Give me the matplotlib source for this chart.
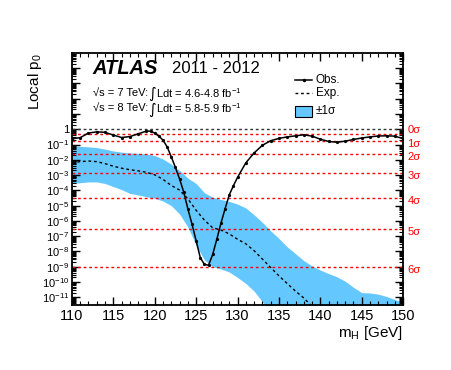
import numpy as np
import matplotlib
matplotlib.use("Agg")
import matplotlib.pyplot as plt
from matplotlib.patches import Rectangle
from matplotlib.ticker import FixedLocator, LogLocator, FuncFormatter, MultipleLocator

plt.rcParams['font.family'] = ['Liberation Sans', 'DejaVu Sans']
plt.rcParams['mathtext.fontset'] = 'custom'
plt.rcParams['mathtext.rm'] = 'Liberation Sans'
plt.rcParams['mathtext.it'] = 'Liberation Sans:italic'
plt.rcParams['mathtext.bf'] = 'Liberation Sans:bold'

obs_mass = [110, 111, 112, 113, 114, 115, 116, 117, 118, 119, 119.5, 120, 120.5,
            121, 121.5, 122, 122.5, 123, 123.5, 124, 124.5, 125, 125.5, 126, 126.5,
            127, 127.5, 128, 128.5, 129, 129.5, 130, 131, 132, 133, 134, 135, 136,
            137, 138, 139, 140, 141, 142, 143, 144, 145, 146, 147, 148, 149, 150]
obs_log = [-0.62, -0.55, -0.25, -0.17, -0.2, -0.38, -0.54, -0.48, -0.3, -0.12, -0.12,
           -0.25, -0.45, -0.71, -1.15, -1.8, -2.5, -3.25, -4.1, -5.2, -6.2, -7.3, -8.4,
           -8.85, -8.9, -8.2, -7.2, -6.15, -5.2, -4.3, -3.7, -3.15, -2.2, -1.55, -1.05,
           -0.75, -0.6, -0.5, -0.43, -0.36, -0.45, -0.65, -0.8, -0.85, -0.78, -0.67,
           -0.57, -0.5, -0.44, -0.43, -0.45, -0.62]

# expected median and +-1 sigma band (log10)
exp_mass = [110, 111, 112, 113, 114, 115, 116, 117, 118, 119, 120, 121, 122, 123, 124,
            125, 126, 127, 128, 129, 130, 131, 132, 133, 134, 135, 136, 137, 138, 139,
            140, 141, 142, 143, 144, 145, 146, 147, 148, 149, 150]
exp_log = [-2.2, -2.12, -2.08, -2.12, -2.25, -2.42, -2.55, -2.65, -2.72, -2.82, -2.98,
           -3.28, -3.68, -3.98, -4.55, -5.3, -5.95, -6.45, -6.6, -6.85, -7.2, -7.5,
           -7.95, -8.5, -9.05, -9.6, -10.1, -10.6, -11.05, -11.6, -12.1, -12.6, -13.1,
           -13.6, -14.1, -14.6, -15.1, -15.6, -16.1, -16.6, -17.1]
band_hi_log = [-1.1, -1.12, -1.15, -1.2, -1.3, -1.42, -1.5, -1.55, -1.58, -1.62, -1.72,
               -1.95, -2.28, -2.7, -3.2, -3.55, -4.15, -4.45, -4.6, -4.72, -4.9, -5.15,
               -5.6, -6.1, -6.65, -7.15, -7.7, -8.15, -8.6, -8.95, -9.22, -9.45, -9.66,
               -9.95, -10.35, -10.7, -10.72, -10.8, -10.95, -11.15, -11.35]
band_lo_log = [-3.55, -3.5, -3.45, -3.45, -3.55, -3.75, -3.95, -4.2, -4.3, -4.42, -4.52,
               -4.7, -5.0, -5.55, -6.4, -7.6, -8.55, -9.0, -9.15, -9.35, -9.7, -10.1,
               -10.6, -11.3, -12.0, -12.7, -13.4, -14.1, -14.8, -15.5, -16.2, -16.9,
               -17.6, -18.3, -19.0, -19.7, -20.4, -21.1, -21.8, -22.5, -23.2]

sigma_labels = ['0σ', '1σ', '2σ', '3σ', '4σ', '5σ', '6σ']
sigma_p = [0.5, 0.1587, 0.02275, 1.35e-3, 3.17e-5, 2.87e-7, 9.87e-10]

lumi_energy = ['√s = 7 TeV:', '√s = 8 TeV:']
lumi_range = ['Ldt = 4.6-4.8 fb$^{-1}$', 'Ldt = 5.8-5.9 fb$^{-1}$']

fig = plt.figure(figsize=(4.52, 3.70), dpi=100)
ax = fig.add_axes([0.159, 0.176, 0.733, 0.681])

ax.fill_between(exp_mass, 10.0 ** np.array(band_lo_log), 10.0 ** np.array(band_hi_log),
                color='#64C8FF', linewidth=0, zorder=1)

ax.axhline(1.0, color='#333333', linestyle=(0, (2, 2)), linewidth=1.0, zorder=2)
for p in sigma_p:
    ax.axhline(p, color='red', linestyle=(0, (2, 2)), linewidth=1.0, zorder=2)

ax.plot(exp_mass, 10.0 ** np.array(exp_log), color='black', linestyle=(0, (2, 2)),
        linewidth=1.0, zorder=3)
ax.plot(obs_mass, 10.0 ** np.array(obs_log), color='black', linewidth=1.1,
        marker='o', markersize=1.3, zorder=4)

ax.set_xlim(110, 150)
ax.set_yscale('log')
ax.set_ylim(10 ** -11.5, 1e5)

ax.xaxis.set_major_locator(MultipleLocator(5))
ax.xaxis.set_minor_locator(MultipleLocator(1))
ax.yaxis.set_major_locator(FixedLocator([10.0 ** k for k in range(-11, 5)]))
ax.yaxis.set_minor_locator(LogLocator(base=10, subs=np.arange(2, 10), numticks=30))


def ylab(v, pos):
    k = int(round(np.log10(v)))
    if k > 0:
        return ''
    if k == 0:
        return '1'
    return r'$10^{%d}$' % k


ax.yaxis.set_major_formatter(FuncFormatter(ylab))
ax.tick_params(which='both', direction='in', top=True, right=True)
ax.tick_params(which='major', length=6, width=1.0)
ax.tick_params(which='minor', length=3, width=0.8)
ax.tick_params(axis='x', labelsize=10.5, pad=3)
ax.tick_params(axis='y', labelsize=8, pad=2)
for s in ax.spines.values():
    s.set_linewidth(1.3)

# sigma labels at the right
for lab, p in zip(sigma_labels, sigma_p):
    dy = 2.5 if lab == '0σ' else -2
    ax.annotate(lab, xy=(1.0, p), xycoords=('axes fraction', 'data'),
                xytext=(3, dy), textcoords='offset points',
                color='red', fontsize=8, ha='left', va='center')

ax.text(1.0, -0.112, r'm$_{\mathrm{H}}$ [GeV]', transform=ax.transAxes,
        ha='right', va='center', fontsize=11)
ax.text(-0.11, 1.0, r'Local p$_{\mathrm{0}}$', transform=ax.transAxes,
        rotation=90, ha='center', va='top', fontsize=11)

ax.text(0.063, 0.937, 'ATLAS', transform=ax.transAxes, fontsize=14.5,
        fontweight='bold', fontstyle='italic', va='center')
ax.text(0.302, 0.937, '2011 - 2012', transform=ax.transAxes, fontsize=12, va='center')
for i, y in enumerate([0.84, 0.78]):
    ax.text(0.063, y, lumi_energy[i], transform=ax.transAxes, fontsize=8, va='center')
    ax.text(0.229, y - 0.003, '∫', transform=ax.transAxes, fontsize=10.5,
            va='center', family='DejaVu Sans')
    ax.text(0.253, y, lumi_range[i], transform=ax.transAxes, fontsize=8, va='center')

# legend drawn by hand
ax.plot([0.674, 0.725], [0.893, 0.893], transform=ax.transAxes, color='black',
        linewidth=1.1, clip_on=False)
ax.plot([0.6995], [0.893], transform=ax.transAxes, color='black', marker='o',
        markersize=1.5, clip_on=False)
ax.plot([0.674, 0.725], [0.84, 0.84], transform=ax.transAxes, color='black',
        linestyle=(0, (2, 2)), linewidth=1.0, clip_on=False)
ax.add_patch(Rectangle((0.674, 0.745), 0.051, 0.045, transform=ax.transAxes,
                       facecolor='#64C8FF', edgecolor='black', linewidth=0.8))
ax.text(0.736, 0.893, 'Obs.', transform=ax.transAxes, fontsize=8.5, va='center')
ax.text(0.736, 0.84, 'Exp.', transform=ax.transAxes, fontsize=8.5, va='center')
ax.text(0.736, 0.768, '±1σ', transform=ax.transAxes, fontsize=8.5, va='center')

fig.savefig('out.png', dpi=100)
